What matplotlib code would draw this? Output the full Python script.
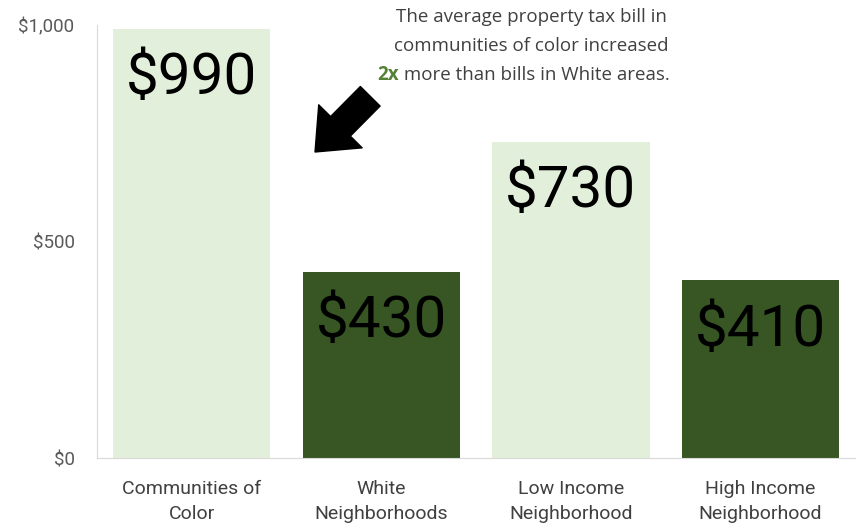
import numpy as np
import matplotlib
matplotlib.use("Agg")
import matplotlib.pyplot as plt

# Data
categories = ["Communities of\nColor", "White\nNeighborhoods", "Low Income\nNeighborhood", "High Income\nNeighborhood"]
values = [990, 430, 730, 410]
value_labels = ["$990", "$430", "$730", "$410"]
yticks = [0, 500, 1000]
ytick_labels = ["$0", "$500", "$1,000"]

light = "#E2EFDA"
dark = "#375623"
colors = [light, dark, light, dark]

plt.rcParams["font.family"] = ["Roboto", "DejaVu Sans"]

fig = plt.figure(figsize=(8.57, 5.29), dpi=100)
ax = fig.add_axes([0.113, 0.134, 0.885, 0.819])

x = np.arange(len(categories))
ax.bar(x, values, width=0.83, color=colors)

for xi, v, lab in zip(x, values, value_labels):
    ax.annotate(lab, (xi, v), xytext=(0, -16), textcoords="offset points",
                ha="center", va="top", fontsize=42, fontweight="normal",
                color="black")

ax.set_xlim(-0.5, 3.5)
ax.set_ylim(0, 1000)
ax.set_xticks(x)
ax.set_xticklabels(categories, fontsize=14, color="#404040", linespacing=1.5)
ax.set_yticks(yticks)
ax.set_yticklabels(ytick_labels, fontsize=13.5, color="#595959")
ax.tick_params(axis="both", length=0)
ax.tick_params(axis="x", pad=16)
ax.tick_params(axis="y", pad=16)

for s in ["top", "right"]:
    ax.spines[s].set_visible(False)
ax.spines["left"].set_color("#D9D9D9")
ax.spines["bottom"].set_color("#D9D9D9")

# Callout text
note_font = dict(fontsize=13.5, color="#404040", family=["Open Sans", "DejaVu Sans"])
fig.text(0.620, 0.968, "The average property tax bill in", ha="center", va="center", **note_font)
fig.text(0.620, 0.913, "communities of color increased", ha="center", va="center", **note_font)
t2x = fig.text(0.440, 0.858, "2x", ha="left", va="center", fontsize=13.5,
               color="#548235", fontweight="bold", family=["Open Sans", "DejaVu Sans"])
ax.annotate(" more than bills in White areas.", xy=(1, 0.5), xycoords=t2x,
            ha="left", va="center", annotation_clip=False, **note_font)

# Black block arrow
ax.annotate("", xy=(0.3676, 0.7127), xycoords="figure fraction",
            xytext=(0.432, 0.818), textcoords="figure fraction",
            arrowprops=dict(arrowstyle="simple,head_width=4.4,head_length=2.6,tail_width=2.0",
                            color="black", mutation_scale=10, shrinkA=0, shrinkB=0))

fig.savefig("out.png", dpi=100)
